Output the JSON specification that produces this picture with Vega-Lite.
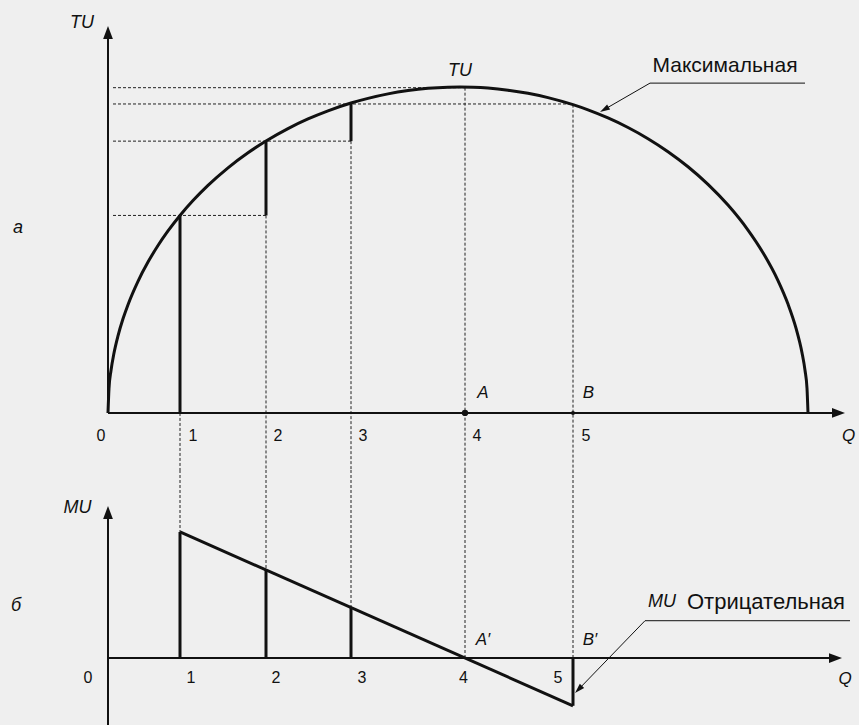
{
  "$schema": "https://vega.github.io/schema/vega-lite/v6.json",
  "background": "#efefef",
  "padding": 0,
  "autosize": {"type": "pad"},
  "spacing": 0,
  "bounds": "flush",
  "config": {"view": {"stroke": null}, "text": {"font": "Liberation Sans", "color": "#111"}},
  "datasets": {
    "tuCurve": [
      {"x": 0, "y": 0}, {"x": 0.1, "y": 7.53}, {"x": 0.3, "y": 13.03}, {"x": 0.6, "y": 18.39},
      {"x": 1, "y": 23.67}, {"x": 1.5, "y": 28.88}, {"x": 2, "y": 33.23}, {"x": 3, "y": 40.4},
      {"x": 4, "y": 46.3}, {"x": 5, "y": 51.37}, {"x": 6, "y": 55.84}, {"x": 7.2, "y": 60.6},
      {"x": 8.5, "y": 65.16}, {"x": 10, "y": 69.82}, {"x": 12, "y": 75.21}, {"x": 14, "y": 79.83},
      {"x": 15.8, "y": 83.44}, {"x": 18, "y": 87.25}, {"x": 20, "y": 90.2}, {"x": 22, "y": 92.7},
      {"x": 24.3, "y": 95.09}, {"x": 26, "y": 96.52}, {"x": 28, "y": 97.89}, {"x": 30, "y": 98.9},
      {"x": 32, "y": 99.59}, {"x": 34, "y": 99.94}, {"x": 35.2, "y": 100}, {"x": 36.5, "y": 99.93},
      {"x": 38, "y": 99.68}, {"x": 40, "y": 99.04}, {"x": 42, "y": 98.07}, {"x": 44, "y": 96.75},
      {"x": 46.5, "y": 94.58}, {"x": 48, "y": 92.99}, {"x": 50, "y": 90.51}, {"x": 52, "y": 87.58},
      {"x": 54, "y": 84.15}, {"x": 56, "y": 80.17}, {"x": 58, "y": 75.55}, {"x": 60, "y": 70.15},
      {"x": 62, "y": 63.79}, {"x": 64, "y": 56.13}, {"x": 65.5, "y": 49.18}, {"x": 67, "y": 40.62},
      {"x": 68, "y": 33.41}, {"x": 68.8, "y": 26.03}, {"x": 69.4, "y": 18.49}, {"x": 69.7, "y": 13.1},
      {"x": 69.9, "y": 7.58}, {"x": 70, "y": 0}
    ],
    "topAxes": [
      {"x": 0, "y": 0, "x2": 0, "y2": 116},
      {"x": 0, "y": 0, "x2": 73, "y2": 0}
    ],
    "topBars": [
      {"x": 7.2, "y": 0, "x2": 7.2, "y2": 60.6},
      {"x": 15.8, "y": 60.6, "x2": 15.8, "y2": 83.4},
      {"x": 24.3, "y": 83.4, "x2": 24.3, "y2": 95.1}
    ],
    "topDotted": [
      {"x": 0.5, "y": 60.6, "x2": 15.8, "y2": 60.6},
      {"x": 0.5, "y": 83.4, "x2": 24.3, "y2": 83.4},
      {"x": 0.5, "y": 94.8, "x2": 46.5, "y2": 94.8},
      {"x": 0.5, "y": 99.8, "x2": 35.7, "y2": 99.8},
      {"x": 7.2, "y": 0, "x2": 7.2, "y2": -17.5},
      {"x": 15.8, "y": 60.6, "x2": 15.8, "y2": -17.5},
      {"x": 24.3, "y": 83.4, "x2": 24.3, "y2": -17.5},
      {"x": 35.7, "y": 99.8, "x2": 35.7, "y2": -17.5},
      {"x": 46.5, "y": 94.6, "x2": 46.5, "y2": -17.5}
    ],
    "topCallout": [
      {"x": 54.2, "y": 101.2, "x2": 69.7, "y2": 101.2},
      {"x": 54.2, "y": 101.2, "x2": 49.63, "y2": 93.1}
    ],
    "topArrowUp": [{"x": 0, "y": 116.7}],
    "topArrowRight": [{"x": 73.05, "y": 0}],
    "topCalloutHead": [{"x": 49.63, "y": 93.1}],
    "pointA": [{"x": 35.7, "y": 0}],
    "pointB": [{"x": 46.5, "y": 0}],
    "topDigits": [
      {"x": -0.7, "y": -7.06, "label": "0"},
      {"x": 8.5, "y": -7.06, "label": "1"},
      {"x": 17.0, "y": -7.06, "label": "2"},
      {"x": 25.5, "y": -7.06, "label": "3"},
      {"x": 36.9, "y": -7.06, "label": "4"},
      {"x": 47.8, "y": -7.06, "label": "5"}
    ],
    "topItalic": [
      {"x": 74.05, "y": -7.06, "label": "Q"},
      {"x": 37.5, "y": 5.98, "label": "A"},
      {"x": 48.05, "y": 5.98, "label": "B"}
    ],
    "topBig": [
      {"x": -2.6, "y": 119.7, "label": "TU"},
      {"x": 35.2, "y": 104.8, "label": "TU"},
      {"x": -9.0, "y": 56.8, "label": "а"}
    ],
    "topMax": [{"x": 61.7, "y": 106.6, "label": "Максимальная"}],
    "bottomAxes": [
      {"x": 0, "y": -15.95, "x2": 0, "y2": 33.6},
      {"x": 0, "y": 0, "x2": 72.6, "y2": 0}
    ],
    "bottomBars": [
      {"x": 7.2, "y": 0, "x2": 7.2, "y2": 30},
      {"x": 15.8, "y": 0, "x2": 15.8, "y2": 20.95},
      {"x": 24.3, "y": 0, "x2": 24.3, "y2": 12.0},
      {"x": 46.5, "y": 0, "x2": 46.5, "y2": -11.37},
      {"x": 7.2, "y": 30, "x2": 46.5, "y2": -11.37}
    ],
    "bottomDotted": [
      {"x": 7.2, "y": 44.76, "x2": 7.2, "y2": 30},
      {"x": 15.8, "y": 44.76, "x2": 15.8, "y2": 20.95},
      {"x": 24.3, "y": 44.76, "x2": 24.3, "y2": 12.0},
      {"x": 35.7, "y": 44.76, "x2": 35.7, "y2": 0},
      {"x": 46.5, "y": 44.76, "x2": 46.5, "y2": 0}
    ],
    "bottomCallout": [
      {"x": 53.7, "y": 8.88, "x2": 74.2, "y2": 8.88},
      {"x": 53.7, "y": 8.88, "x2": 47.05, "y2": -7.48}
    ],
    "bottomArrowUp": [{"x": 0, "y": 34.64}],
    "bottomArrowRight": [{"x": 72.75, "y": 0}],
    "bottomCalloutHead": [{"x": 47.05, "y": -7.48}],
    "bottomDigits": [
      {"x": -2.0, "y": -4.76, "label": "0"},
      {"x": 8.3, "y": -4.76, "label": "1"},
      {"x": 16.8, "y": -4.76, "label": "2"},
      {"x": 25.4, "y": -4.76, "label": "3"},
      {"x": 35.55, "y": -4.76, "label": "4"},
      {"x": 45.0, "y": -4.76, "label": "5"}
    ],
    "bottomItalic": [
      {"x": 73.7, "y": -4.9, "label": "Q"},
      {"x": 37.5, "y": 4.29, "label": "A′"},
      {"x": 48.2, "y": 4.29, "label": "B′"}
    ],
    "bottomBig": [
      {"x": -3.05, "y": 35.6, "label": "MU"},
      {"x": -9.2, "y": 12.48, "label": "б"}
    ],
    "bottomMuWord": [{"x": 54.0, "y": 13.45, "label": "MU"}],
    "bottomNeg": [{"x": 73.7, "y": 13.45, "label": "Отрицательная"}]
  },
  "vconcat": [
    {
      "width": 859,
      "height": 470,
      "encoding": {
        "x": {"field": "x", "type": "quantitative", "scale": {"domain": [-10.8, 75.1], "nice": false, "zero": false}, "axis": null},
        "y": {"field": "y", "type": "quantitative", "scale": {"domain": [-17.5, 126.7], "nice": false, "zero": false}, "axis": null}
      },
      "layer": [
        {"data": {"name": "topDotted"}, "mark": {"type": "rule", "color": "#222", "strokeWidth": 1, "strokeDash": [3, 2]}, "encoding": {"x2": {"field": "x2"}, "y2": {"field": "y2"}}},
        {"data": {"name": "topAxes"}, "mark": {"type": "rule", "color": "#111", "strokeWidth": 2}, "encoding": {"x2": {"field": "x2"}, "y2": {"field": "y2"}}},
        {"data": {"name": "topBars"}, "mark": {"type": "rule", "color": "#111", "strokeWidth": 3}, "encoding": {"x2": {"field": "x2"}, "y2": {"field": "y2"}}},
        {"data": {"name": "tuCurve"}, "mark": {"type": "line", "color": "#111", "strokeWidth": 3, "interpolate": "monotone"}},
        {"data": {"name": "topCallout"}, "mark": {"type": "rule", "color": "#111", "strokeWidth": 1}, "encoding": {"x2": {"field": "x2"}, "y2": {"field": "y2"}}},
        {"data": {"name": "topArrowUp"}, "mark": {"type": "point", "shape": "M0,-1L-0.75,1L0.75,1Z", "size": 169, "filled": true, "color": "#111", "opacity": 1}},
        {"data": {"name": "topArrowRight"}, "mark": {"type": "point", "shape": "M1,0L-1,-0.75L-1,0.75Z", "size": 169, "filled": true, "color": "#111", "opacity": 1}},
        {"data": {"name": "topCalloutHead"}, "mark": {"type": "point", "shape": "M0,-1L-0.6,1L0.6,1Z", "size": 100, "angle": 240, "filled": true, "color": "#111", "opacity": 1}},
        {"data": {"name": "pointA"}, "mark": {"type": "point", "shape": "circle", "size": 40, "filled": true, "color": "#111", "opacity": 1}},
        {"data": {"name": "pointB"}, "mark": {"type": "point", "shape": "circle", "size": 16, "filled": true, "color": "#111", "opacity": 1}},
        {"data": {"name": "topDigits"}, "mark": {"type": "text", "fontSize": 16, "align": "center", "baseline": "middle"}, "encoding": {"text": {"field": "label"}}},
        {"data": {"name": "topItalic"}, "mark": {"type": "text", "fontSize": 17, "fontStyle": "italic", "align": "center", "baseline": "middle"}, "encoding": {"text": {"field": "label"}}},
        {"data": {"name": "topBig"}, "mark": {"type": "text", "fontSize": 18, "fontStyle": "italic", "align": "center", "baseline": "middle"}, "encoding": {"text": {"field": "label"}}},
        {"data": {"name": "topMax"}, "mark": {"type": "text", "fontSize": 21, "align": "center", "baseline": "middle"}, "encoding": {"text": {"field": "label"}}}
      ]
    },
    {
      "width": 859,
      "height": 255,
      "encoding": {
        "x": {"field": "x", "type": "quantitative", "scale": {"domain": [-10.8, 75.1], "nice": false, "zero": false}, "axis": null},
        "y": {"field": "y", "type": "quantitative", "scale": {"domain": [-15.95, 44.76], "nice": false, "zero": false}, "axis": null}
      },
      "layer": [
        {"data": {"name": "bottomDotted"}, "mark": {"type": "rule", "color": "#222", "strokeWidth": 1, "strokeDash": [3, 2]}, "encoding": {"x2": {"field": "x2"}, "y2": {"field": "y2"}}},
        {"data": {"name": "bottomAxes"}, "mark": {"type": "rule", "color": "#111", "strokeWidth": 2}, "encoding": {"x2": {"field": "x2"}, "y2": {"field": "y2"}}},
        {"data": {"name": "bottomBars"}, "mark": {"type": "rule", "color": "#111", "strokeWidth": 3}, "encoding": {"x2": {"field": "x2"}, "y2": {"field": "y2"}}},
        {"data": {"name": "bottomCallout"}, "mark": {"type": "rule", "color": "#111", "strokeWidth": 1}, "encoding": {"x2": {"field": "x2"}, "y2": {"field": "y2"}}},
        {"data": {"name": "bottomArrowUp"}, "mark": {"type": "point", "shape": "M0,-1L-0.75,1L0.75,1Z", "size": 169, "filled": true, "color": "#111", "opacity": 1}},
        {"data": {"name": "bottomArrowRight"}, "mark": {"type": "point", "shape": "M1,0L-1,-0.75L-1,0.75Z", "size": 169, "filled": true, "color": "#111", "opacity": 1}},
        {"data": {"name": "bottomCalloutHead"}, "mark": {"type": "point", "shape": "M0,-1L-0.6,1L0.6,1Z", "size": 100, "angle": 224, "filled": true, "color": "#111", "opacity": 1}},
        {"data": {"name": "bottomDigits"}, "mark": {"type": "text", "fontSize": 16, "align": "center", "baseline": "middle"}, "encoding": {"text": {"field": "label"}}},
        {"data": {"name": "bottomItalic"}, "mark": {"type": "text", "fontSize": 17, "fontStyle": "italic", "align": "center", "baseline": "middle"}, "encoding": {"text": {"field": "label"}}},
        {"data": {"name": "bottomBig"}, "mark": {"type": "text", "fontSize": 18, "fontStyle": "italic", "align": "center", "baseline": "middle"}, "encoding": {"text": {"field": "label"}}},
        {"data": {"name": "bottomMuWord"}, "mark": {"type": "text", "fontSize": 18, "fontStyle": "italic", "align": "left", "baseline": "middle"}, "encoding": {"text": {"field": "label"}}},
        {"data": {"name": "bottomNeg"}, "mark": {"type": "text", "fontSize": 22, "align": "right", "baseline": "middle"}, "encoding": {"text": {"field": "label"}}}
      ]
    }
  ]
}
